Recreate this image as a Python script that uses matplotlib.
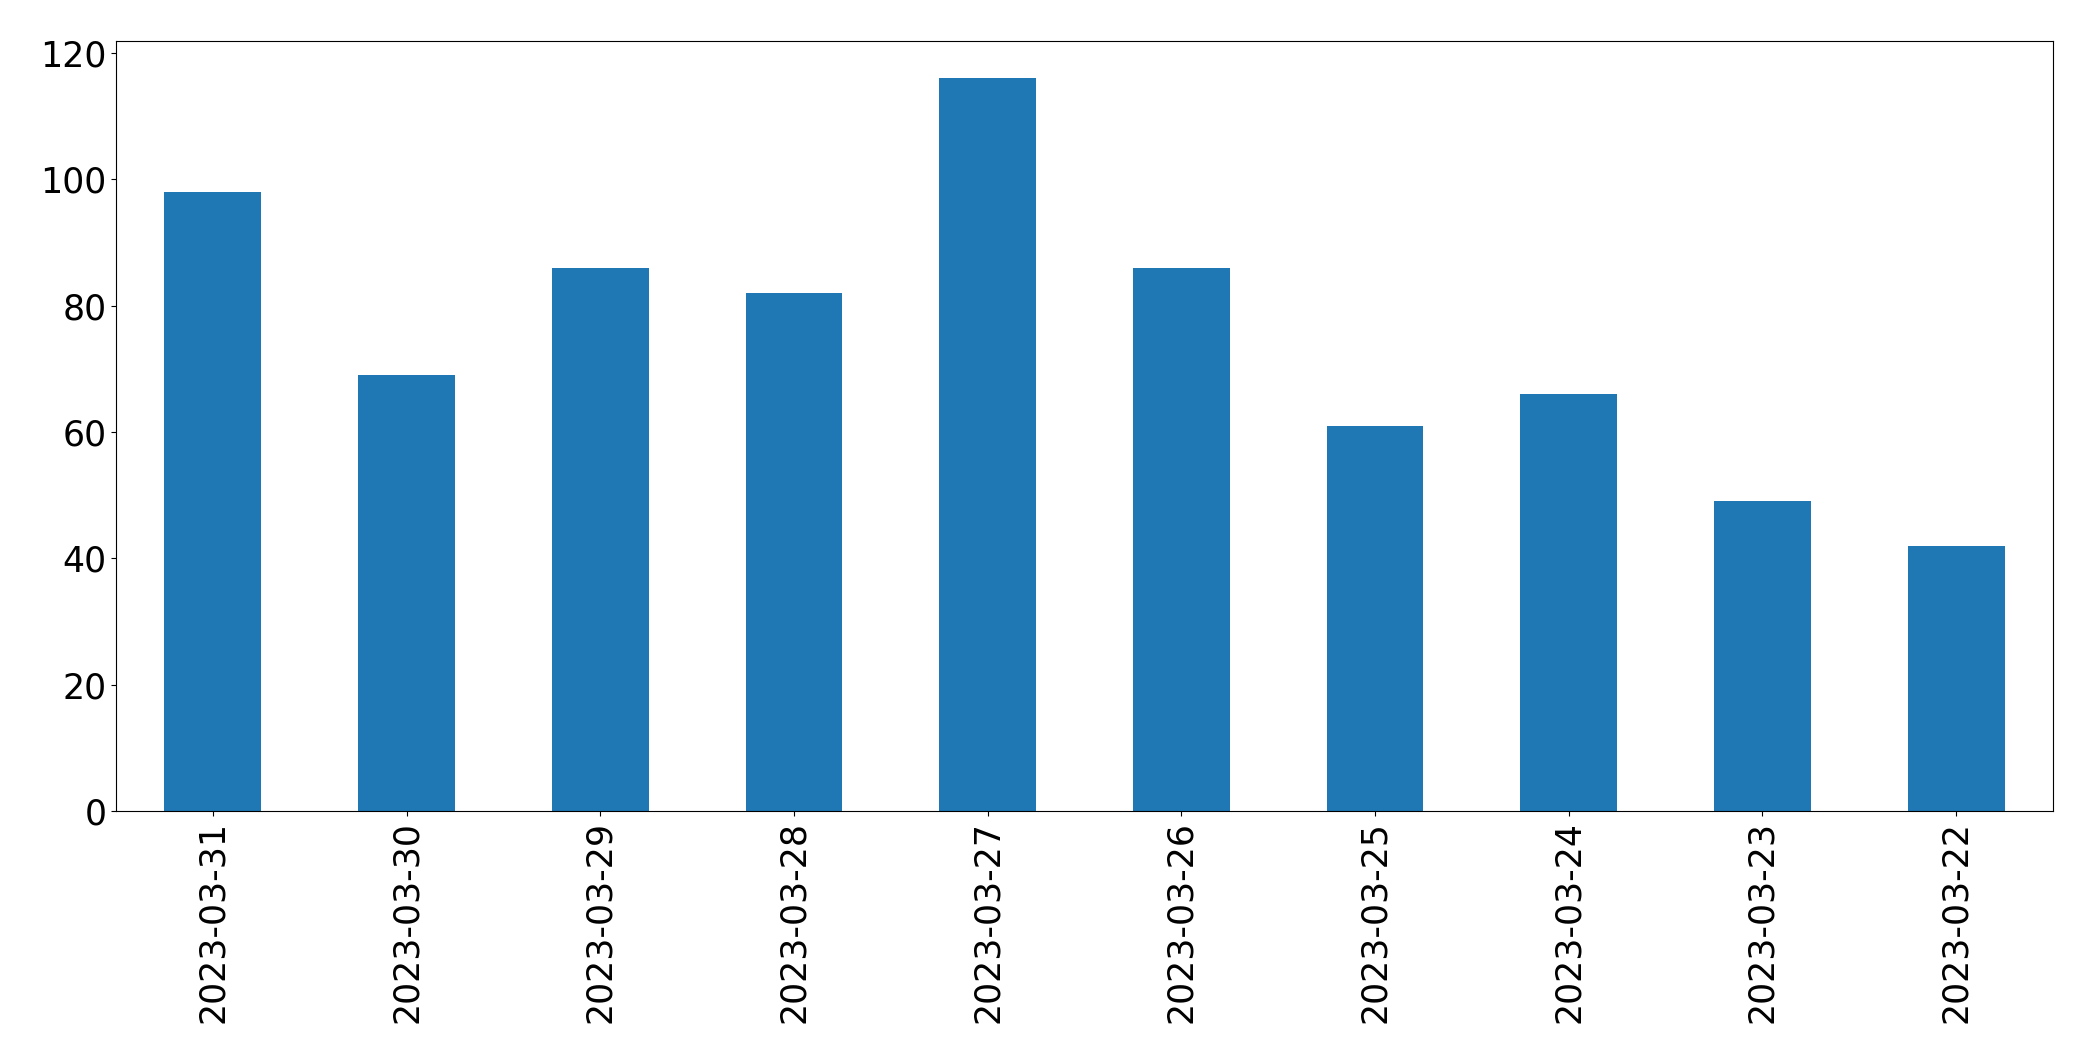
import matplotlib
matplotlib.use("Agg")
import matplotlib.pyplot as plt
import numpy as np

dates = ["2023-03-31", "2023-03-30", "2023-03-29", "2023-03-28", "2023-03-27",
         "2023-03-26", "2023-03-25", "2023-03-24", "2023-03-23", "2023-03-22"]
counts = [98, 69, 86, 82, 116, 86, 61, 66, 49, 42]

fig, ax = plt.subplots(figsize=(20.93, 10.63), dpi=100)
x = np.arange(len(dates))
ax.bar(x, counts, width=0.5, color="#1f77b4")
ax.set_xlim(-0.5, len(dates) - 0.5)
ax.set_ylim(0, 121.9)
ax.set_xticks(x)
ax.set_xticklabels(dates, rotation=90)
ax.set_yticks([0, 20, 40, 60, 80, 100, 120])
ax.tick_params(labelsize=25)

fig.subplots_adjust(left=116/2093, right=2053/2093, top=1-41/1063, bottom=1-811/1063)
fig.savefig("out.png", dpi=100)
